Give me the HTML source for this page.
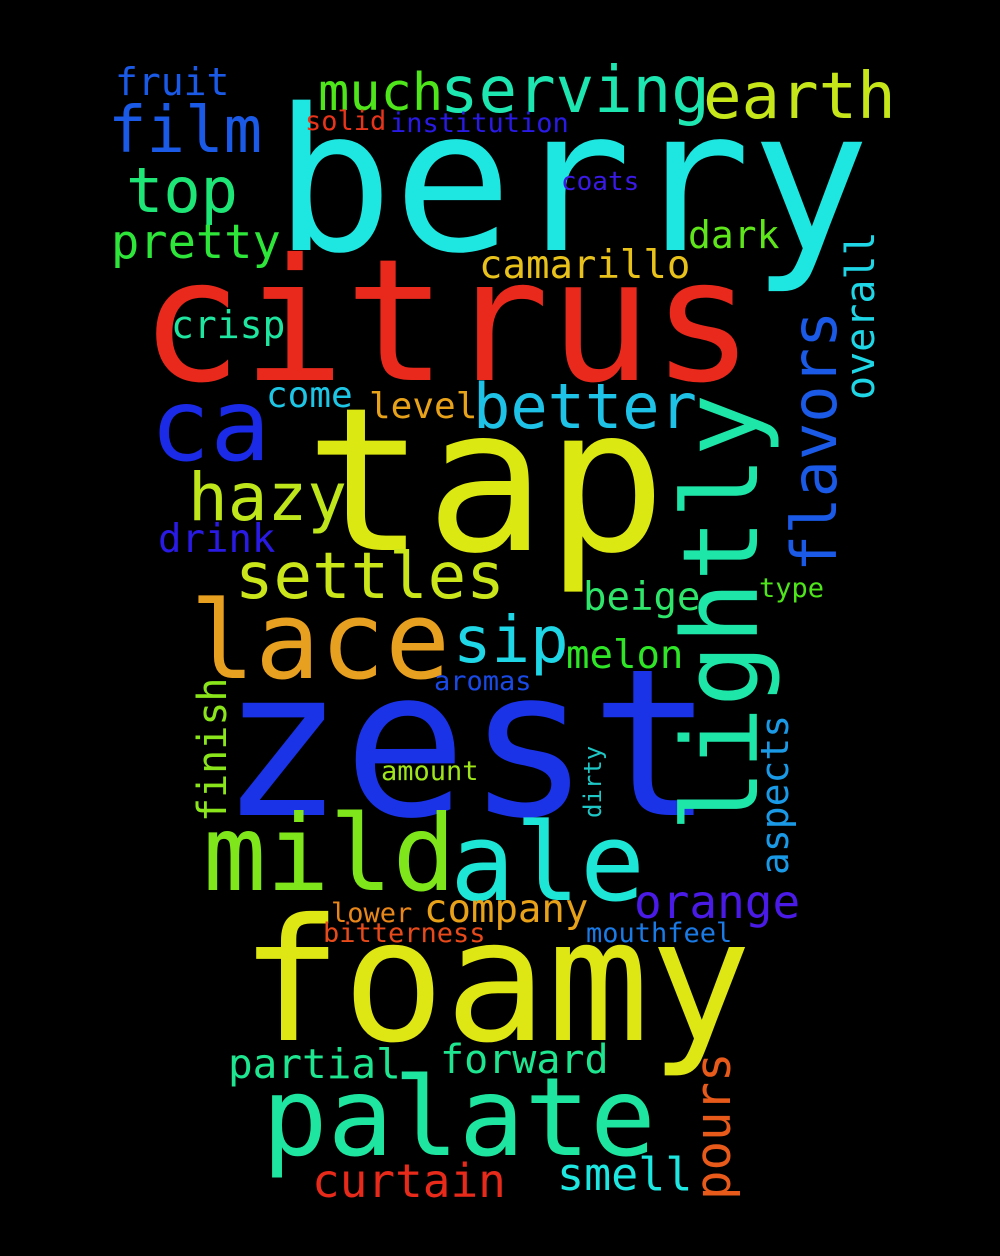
<!DOCTYPE html>
<html><head><meta charset="utf-8"><style>
html,body{margin:0;padding:0;background:#000;}
svg{display:block}
text{font-family:"DejaVu Sans Mono","Liberation Mono",monospace;}
</style></head><body>
<svg id="cloud" width="1000" height="1256" viewBox="0 0 1000 1256">
<rect width="1000" height="1256" fill="#000"/>
</svg>
<script>
const words=["berry","citrus","tap","zest","foamy","palate","lace","mild","ale","lightly","flavors","overall","aspects","finish","pours","dirty","serving","earth","much","film","fruit","solid","institution","top","pretty","coats","dark","camarillo","crisp","ca","come","level","better","hazy","drink","settles","beige","type","sip","melon","aromas","amount","orange","company","lower","bitterness","mouthfeel","partial","forward","smell","curtain"];
const sizes=[198,170,200,205,170,109,108,105,108,104,62,40,38,40,49,24,64,64,52,64,38,27,27,62,47,26,38,39,38,100,36,36,62,66,39,64,39,27,64,39,27,27,46,39,27,27,27,41,40,45,46];
const xs=[274,140,305,220,240,262,190,203,450,757,836,874,788,226,730,601,440,703,318,108,115,305,390,126,111,561,688,479,171,150,266,369,473,188,158,235,583,759,453,566,434,381,634,424,331,323,586,228,440,557,312];
const ys=[250,380,550,815,1040,1155,678,890,900,832,572,400,875,822,1200,818,112,118,110,152,95,130,132,212,258,190,248,278,338,460,407,418,428,520,552,598,610,597,662,668,690,780,918,922,922,942,942,1078,1073,1190,1197];
const rot=[0,0,0,0,0,0,0,0,0,-90,-90,-90,-90,-90,-90,-90,0,0,0,0,0,0,0,0,0,0,0,0,0,0,0,0,0,0,0,0,0,0,0,0,0,0,0,0,0,0,0,0,0,0,0];
const colors=["#1ee6e0","#e8291c","#dbe812","#1a33e6","#dee614","#1ee6a0","#e8a020","#7ee61a","#1ee6d6","#1ee6a8","#1a5ae6","#1ed6e6","#1a9ae6","#8ae61a","#e85a1a","#1ec6c6","#1ee6b0","#c6e61a","#4ee61a","#1a5ae6","#1a5ae6","#e8341a","#2a1ae6","#1ee676","#2ee63a","#3a1ae6","#5ee61a","#e8c21a","#1ee6a0","#1a2ae6","#1ec6e6","#e8a21a","#1ec2e6","#bee61a","#2a1ae6","#cae61a","#2ee66a","#4ee61a","#1ed6e6","#2ee626","#1a4ae6","#9ee61a","#4a1ae6","#e8a21a","#e8861a","#e84a1a","#1a7ae6","#1ee690","#1ee690","#1ee6e0","#e82a1a"];
const svg=document.getElementById('cloud');
for(let i=0;i<words.length;i++){
  const t=document.createElementNS('http://www.w3.org/2000/svg','text');
  
  
  t.setAttribute('x',xs[i]);t.setAttribute('y',ys[i]);
  t.setAttribute('font-size',sizes[i]);
  t.setAttribute('fill',colors[i]);
  if(rot[i])t.setAttribute('transform','rotate('+rot[i]+' '+xs[i]+' '+ys[i]+')');
  t.textContent=words[i];
  svg.appendChild(t);
}
</script>
</body></html>
